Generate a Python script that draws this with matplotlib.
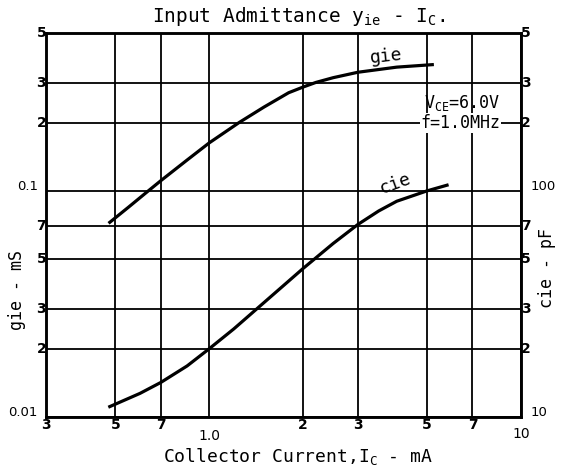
import matplotlib.pyplot as plt

plt.rcParams['mathtext.fontset'] = 'custom'
plt.rcParams['mathtext.rm'] = 'DejaVu Sans Mono'
plt.rcParams['mathtext.it'] = 'DejaVu Sans Mono'
mono = 'DejaVu Sans Mono'

# gie (mS) against collector current (mA)
gie_ic = [0.48, 0.55, 0.625, 0.7, 0.85, 1.0, 1.25, 1.5, 1.8, 2.0, 2.2, 2.5, 3.0, 4.0, 5.2]
gie_ms = [0.0726, 0.0845, 0.0977, 0.111, 0.137, 0.163, 0.201, 0.235, 0.272, 0.288, 0.302, 0.317, 0.335, 0.353, 0.362]

# cie (pF) against collector current (mA)
cie_ic = [0.48, 0.6, 0.7, 0.85, 1.0, 1.2, 1.42, 1.8, 2.0, 2.5, 3.0, 3.5, 4.0, 5.0, 5.8]
cie_pf = [11.1, 12.7, 14.2, 16.8, 20.0, 24.5, 30.0, 39.9, 45.3, 58.5, 71.0, 81.5, 90.0, 100.0, 106.0]

x_ticks = [0.3, 0.5, 0.7, 1.0, 2, 3, 5, 7, 10]
x_labels = ['3', '5', '7', '1.0', '2', '3', '5', '7', '10']
gie_ticks = [0.01, 0.02, 0.03, 0.05, 0.07, 0.1, 0.2, 0.3, 0.5]
gie_labels = ['0.01', '2', '3', '5', '7', '0.1', '2', '3', '5']
cie_ticks = [10, 20, 30, 50, 70, 100, 200, 300, 500]
cie_labels = ['10', '2', '3', '5', '7', '100', '2', '3', '5']

fig = plt.figure(figsize=(5.63, 4.71), dpi=100)
ax = fig.add_axes([0.082, 0.115, 0.843, 0.815])
ax.set_xscale('log')
ax.set_yscale('log')
ax.set_xlim(0.3, 10)
ax.set_ylim(0.01, 0.5)

ax2 = ax.twinx()
ax2.set_yscale('log')
ax2.set_ylim(10, 500)

for a in (ax, ax2):
    a.minorticks_off()
    a.tick_params(which='both', length=0, labelleft=False, labelright=False,
                  labelbottom=False)
    for s in a.spines.values():
        s.set_linewidth(1.8)

ax.set_xticks(x_ticks)
ax.set_yticks(gie_ticks)
ax2.set_yticks(cie_ticks)
ax.grid(True, color='black', linewidth=1.3)

ax.plot(gie_ic, gie_ms, color='black', linewidth=2.3)
ax2.plot(cie_ic, cie_pf, color='black', linewidth=2.3)

# tick numbers
for x, lbl in zip(x_ticks, x_labels):
    if lbl in ('1.0', '10'):
        dy, w = -9 if lbl == '1.0' else -7, 'normal'
    else:
        dy, w = -1, 'bold'
    ax.annotate(lbl, xy=(x, 0), xycoords=('data', 'axes fraction'),
                xytext=(0, dy), textcoords='offset points',
                ha='center', va='top', fontsize=10, fontweight=w)

for y, lbl in zip(gie_ticks, gie_labels):
    if '.' in lbl:
        ax.annotate(lbl, xy=(0, y), xycoords=('axes fraction', 'data'),
                    xytext=(-6, 3), textcoords='offset points',
                    ha='right', va='center', fontsize=9.5)
    else:
        ax.annotate(lbl, xy=(0, y), xycoords=('axes fraction', 'data'),
                    xytext=(0, 0), textcoords='offset points',
                    ha='right', va='center', fontsize=10, fontweight='bold')

for y, lbl in zip(cie_ticks, cie_labels):
    if lbl in ('10', '100'):
        ax2.annotate(lbl, xy=(1, y), xycoords=('axes fraction', 'data'),
                     xytext=(7, 3), textcoords='offset points',
                     ha='left', va='center', fontsize=9.5)
    else:
        ax2.annotate(lbl, xy=(1, y), xycoords=('axes fraction', 'data'),
                     xytext=(0, 0), textcoords='offset points',
                     ha='left', va='center', fontsize=10, fontweight='bold')

# curve names and conditions
ax.text(3.7, 0.395, 'gie', family=mono, fontsize=13, ha='center', va='center',
        rotation=6)
ax2.text(3.95, 108, 'cie', family=mono, fontsize=13, ha='center', va='center',
         rotation=20)
ax.text(8.6, 0.245, r'$\mathrm{V_{CE}}$=6.0V', family=mono, fontsize=12,
        ha='right', va='center')
ax.text(8.6, 0.2, 'f=1.0MHz', family=mono, fontsize=12, ha='right',
        va='center', bbox=dict(facecolor='white', edgecolor='none', pad=0.5))

fig.text(0.53, 0.965, r'Input Admittance $\mathrm{y_{ie}}$ - $\mathrm{I_C}$.',
         family=mono, fontsize=14, ha='center', va='center')
fig.text(0.53, 0.03, r'Collector Current,$\mathrm{I_C}$ - mA', family=mono,
         fontsize=13, ha='center', va='center')
fig.text(0.03, 0.385, 'gie - mS', family=mono, fontsize=12, rotation=90,
         ha='center', va='center')
fig.text(0.972, 0.43, 'cie - pF', family=mono, fontsize=12, rotation=90,
         ha='center', va='center')

fig.savefig('out.png', dpi=100)
